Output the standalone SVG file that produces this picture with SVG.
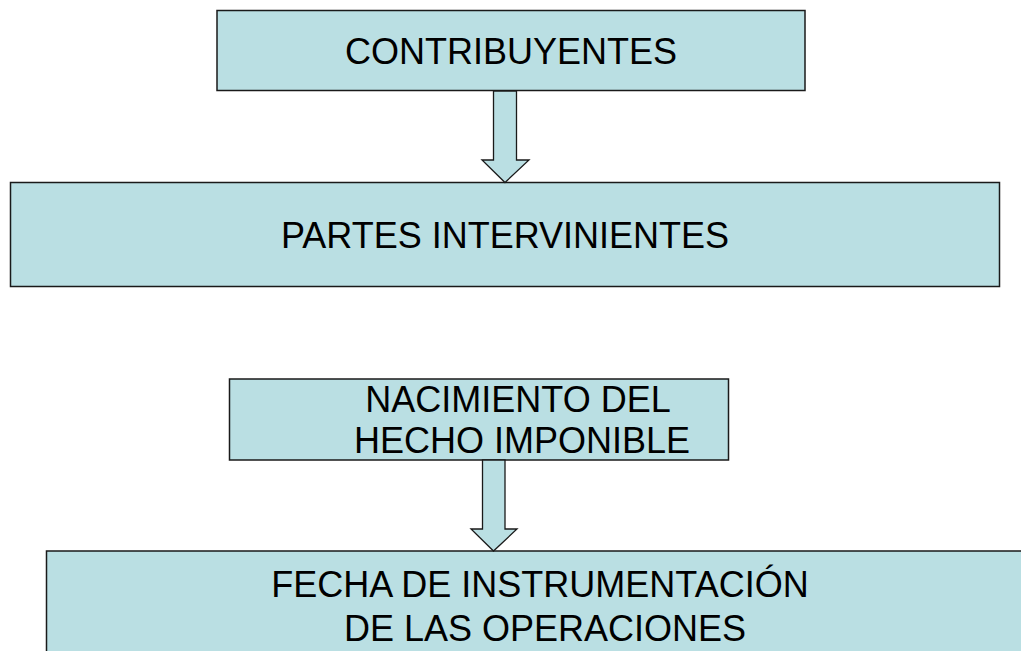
<svg xmlns="http://www.w3.org/2000/svg" width="1021" height="651" viewBox="0 0 1021 651">
<style>
.box{fill:#BADFE3;stroke:#1a1a1a;stroke-width:1.5}
.arr{fill:#BADFE3;stroke:#1a1a1a;stroke-width:1.3;stroke-linejoin:miter}
.t{font-family:"Liberation Sans",Arial,sans-serif;font-size:36px;fill:#000;text-anchor:middle}
</style>
<rect width="1021" height="651" fill="#fff"/>
<g id="node-contribuyentes">
<rect class="box" x="217" y="10.5" width="588" height="80"/>
<text class="t" x="511" y="64">CONTRIBUYENTES</text>
</g>
<g id="node-partes">
<rect class="box" x="10.5" y="182.5" width="989" height="104"/>
<text class="t" x="505" y="248">PARTES INTERVINIENTES</text>
</g>
<g id="node-nacimiento">
<rect class="box" x="229.5" y="379" width="499" height="81"/>
<text class="t" x="518" y="412">NACIMIENTO DEL</text>
<text class="t" x="522" y="453">HECHO IMPONIBLE</text>
</g>
<g id="node-fecha">
<rect class="box" x="46.5" y="551" width="990" height="120"/>
<text class="t" x="540" y="597">FECHA DE INSTRUMENTACIÓN</text>
<text class="t" x="545" y="641">DE LAS OPERACIONES</text>
</g>
<g id="connectors">
<polygon class="arr" points="493.5,91 516.5,91 516.5,160 529,160 505,182.5 482,160 493.5,160"/>
<polygon class="arr" points="482.5,460 505,460 505,529 517,529 493.5,551 471,529 482.5,529"/>
</g>
</svg>
